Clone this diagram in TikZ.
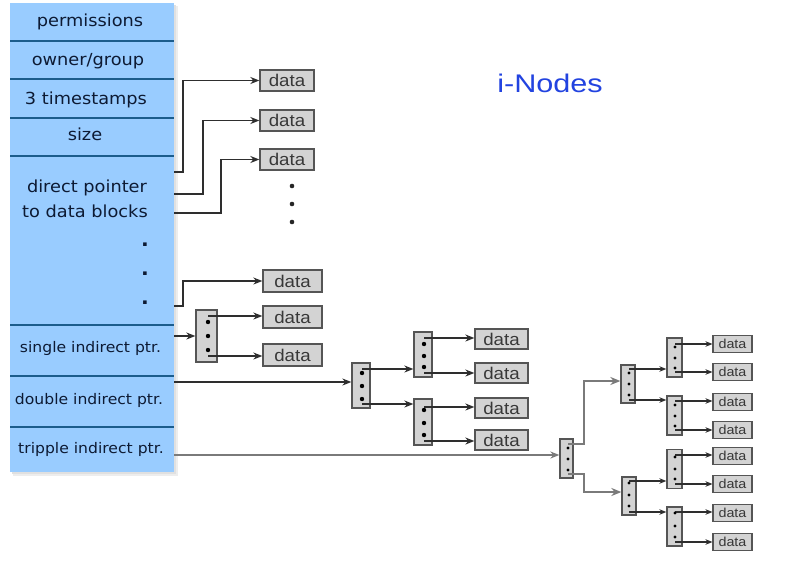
\documentclass[tikz,border=0pt]{standalone}
\usepackage{fontspec}
\setmainfont{DejaVu Sans}[FakeStretch=1.07]
\newfontfamily\arialf{Liberation Sans}[FakeStretch=1.1]
\newfontfamily\titlef{Liberation Sans}[FakeStretch=1.2]
\usetikzlibrary{arrows.meta,calc}
\definecolor{tblblue}{HTML}{99CCFF}
\definecolor{tblline}{HTML}{1B5C8C}
\definecolor{tbltext}{HTML}{0D1A33}
\definecolor{boxgray}{HTML}{D3D3D3}
\definecolor{boxedge}{HTML}{555555}
\definecolor{arrdark}{HTML}{2E2E2E}
\definecolor{arrgray}{HTML}{7A7A7A}
\definecolor{titleblue}{HTML}{2243E0}
\tikzset{
  tbl/.style={draw=none, fill=tblblue, minimum width=164pt, minimum height=469pt, inner sep=0pt},
  rowline/.style={draw=tblline, line width=2.4pt},
  bigrow/.style={text=tbltext, inner sep=0pt, anchor=base, font=\fontsize{16.6}{19}\selectfont},
  smallrow/.style={text=tbltext, inner sep=0pt, anchor=base, font=\fontsize{14.6}{17}\selectfont},
  dotrow/.style={text=tbltext, inner sep=0pt, anchor=base, font=\bfseries\fontsize{19}{20}\selectfont},
  datab/.style={draw=boxedge, fill=boxgray, line width=1.3pt, text=black!78, inner sep=0pt,
    font=\arialf\fontsize{17}{18}\selectfont, minimum width=54pt, minimum height=21pt},
  smalldata/.style={datab, line width=1.1pt, minimum width=39pt, minimum height=17pt, font=\arialf\fontsize{13}{14}\selectfont},
  idx/.style={draw=boxedge, fill=boxgray, line width=1.3pt, inner sep=0pt},
  arr/.style={draw=arrdark, line width=1.7pt, -{Stealth[length=9pt,width=7pt]}},
  sarr/.style={draw=arrdark, line width=1.4pt, -{Stealth[length=7pt,width=5.5pt]}},
  garr/.style={draw=arrgray, line width=2.4pt, -{Stealth[length=10pt,width=8pt]}},
  glink/.style={draw=arrgray, line width=2pt, -{Stealth[length=9pt,width=7pt]}},
}
\begin{document}
\begin{tikzpicture}[x=1pt,y=-1pt]
\useasboundingbox (0,0) rectangle (786,565);
\fill[white] (0,0) rectangle (786,565);
% shadow and table
\fill[black!7] (13,6) rectangle (178,476);
\fill[black!12] (12,5) rectangle (176,474);
\node[tbl] (tbl) at (92,237.5) {};
\foreach \yy in {41,79,118,156,325,376,427}
  \draw[rowline] (10,\yy) -- (174,\yy);
\node[bigrow] (r1) at (90,26) {permissions};
\node[bigrow] (r2) at (88,65) {owner/group};
\node[bigrow] (r3) at (86,104) {3 timestamps};
\node[bigrow] (r4) at (85,140.5) {size};
\node[bigrow] (r5) at (87,192) {direct pointer};
\node[bigrow] (r6) at (85,217) {to data blocks};
\node[dotrow] (q1) at (145,246) {.};
\node[dotrow] (q2) at (145,275.5) {.};
\node[dotrow] (q3) at (145,304.5) {.};
\node[smallrow] (r7) at (90.5,352.5) {single indirect ptr.};
\node[smallrow] (r8) at (89,404) {double indirect ptr.};
\node[smallrow] (r9) at (91,453) {tripple indirect ptr.};
% title
\node[text=titleblue, inner sep=0pt, anchor=base, font=\titlef\fontsize{25.5}{28}\selectfont] (title) at (550,92.7) {i-Nodes};
% direct data blocks
\node[datab] (d1) at (287,80.5) {data};
\node[datab] (d2) at (287,120.5) {data};
\node[datab] (d3) at (287,159.5) {data};
\foreach \yy in {186,204,222} \fill[black!85] (292,\yy) circle (2.3pt);
\coordinate (p1) at (174,172);
\coordinate (p2) at (174,194);
\coordinate (p3) at (174,213);
\draw[arr] (p1) -- ++(9,0) |- (d1.west);
\draw[arr] (p2) -- ++(29,0) |- (d2.west);
\draw[arr] (p3) -- ++(47,0) |- (d3.west);
% last direct + single indirect
\node[datab, minimum width=59pt, minimum height=22pt] (d4) at (292.5,281) {data};
\node[datab, minimum width=59pt, minimum height=22pt] (d5) at (292.5,317) {data};
\node[datab, minimum width=59pt, minimum height=22pt] (d6) at (292.5,355) {data};
\node[idx, minimum width=21pt, minimum height=52pt] (S) at (206.5,336) {};
\coordinate (p4) at (174,306);
\coordinate (p5) at (174,336);
\draw[arr] (p4) -- ++(9,0) |- (d4.west);
\draw[arr] (p5) -- (S.west);
\coordinate (s1) at (208,316);
\coordinate (s2) at (208,356);
\draw[arr] (s1) -- (s1 -| d5.west);
\draw[arr] (s2) -- (s2 -| d6.west);
% double indirect
\node[idx, minimum width=18pt, minimum height=45pt] (A) at (361,385.5) {};
\node[idx, minimum width=18pt, minimum height=45pt] (B) at (423,354.5) {};
\node[idx, minimum width=18pt, minimum height=46pt] (C) at (423,422) {};
\node[datab, minimum width=53pt, minimum height=20pt] (e1) at (501.5,339) {data};
\node[datab, minimum width=53pt, minimum height=20pt] (e2) at (501.5,373) {data};
\node[datab, minimum width=53pt, minimum height=20pt] (e3) at (501.5,408) {data};
\node[datab, minimum width=53pt, minimum height=20pt] (e4) at (501.5,440) {data};
\coordinate (p6) at (174,382);
\draw[arr, line width=1.4pt] (p6) -- (p6 -| A.west);
\coordinate (a1) at (362,369);
\coordinate (a2) at (362,404);
\draw[arr] (a1) -- (a1 -| B.west);
\draw[arr] (a2) -- (a2 -| C.west);
\coordinate (b1) at (424,338);
\coordinate (b2) at (424,373);
\coordinate (c1) at (424,407);
\coordinate (c2) at (424,441);
\draw[arr] (b1) -- (b1 -| e1.west);
\draw[arr] (b2) -- (b2 -| e2.west);
\draw[arr] (c1) -- (c1 -| e3.west);
\draw[arr] (c2) -- (c2 -| e4.west);
% triple indirect
\node[idx, minimum width=13pt, minimum height=39pt] (D) at (566.5,458.5) {};
\node[idx, minimum width=14pt, minimum height=38pt] (E) at (628,384) {};
\node[idx, minimum width=14pt, minimum height=38pt] (F) at (629,496) {};
\node[idx, minimum width=15pt, minimum height=39pt] (G) at (674.5,357.5) {};
\node[idx, minimum width=15pt, minimum height=39pt] (H) at (674.5,415.5) {};
\node[idx, minimum width=15pt, minimum height=39pt] (I) at (674.5,469) {};
\node[idx, minimum width=15pt, minimum height=39pt] (J) at (674.5,526.5) {};
\node[smalldata] (f1) at (732.5,344) {data};
\node[smalldata] (f2) at (732.5,372) {data};
\node[smalldata] (f3) at (732.5,402) {data};
\node[smalldata] (f4) at (732.5,430) {data};
\node[smalldata] (f5) at (732.5,456) {data};
\node[smalldata] (f6) at (732.5,484) {data};
\node[smalldata] (f7) at (732.5,513) {data};
\node[smalldata] (f8) at (732.5,542) {data};
\coordinate (p7) at (174,455);
\draw[glink] (p7) -- (p7 -| D.west);
\coordinate (dd1) at (568,444);
\coordinate (dd2) at (568,474);
\draw[garr] (dd1) -- ++(16,0) |- ([yshift=3pt]E.west);
\draw[garr] (dd2) -- ++(16,0) |- ([yshift=4pt]F.west);
\coordinate (g1) at (629,369);
\coordinate (g2) at (629,400);
\coordinate (g3) at (629,481);
\coordinate (g4) at (629,512);
\draw[sarr] (g1) -- (g1 -| G.west);
\draw[sarr] (g2) -- (g2 -| H.west);
\draw[sarr] (g3) -- (g3 -| I.west);
\draw[sarr] (g4) -- (g4 -| J.west);
\coordinate (h1) at (675,344);
\coordinate (h2) at (675,372);
\coordinate (h3) at (675,401);
\coordinate (h4) at (675,430);
\coordinate (h5) at (675,455);
\coordinate (h6) at (675,484);
\coordinate (h7) at (675,512);
\coordinate (h8) at (675,542);
\draw[sarr] (h1) -- (h1 -| f1.west);
\draw[sarr] (h2) -- (h2 -| f2.west);
\draw[sarr] (h3) -- (h3 -| f3.west);
\draw[sarr] (h4) -- (h4 -| f4.west);
\draw[sarr] (h5) -- (h5 -| f5.west);
\draw[sarr] (h6) -- (h6 -| f6.west);
\draw[sarr] (h7) -- (h7 -| f7.west);
\draw[sarr] (h8) -- (h8 -| f8.west);
% dots in index blocks
\foreach \xx/\yy in {208/322,208/336,208/350,362/373,362/386,362/399,424/344,424/356,424/367,424/410,424/423,424/435}
  \fill[black] (\xx,\yy) circle (2.2pt);
\foreach \xx/\yy in {568/448,568/459,568/470,629/373,629/384,629/395,629/483,629/495,629/506,675/347,675/358,675/368,675/405,675/416,675/426,675/457,675/469,675/479,675/513,675/526,675/537}
  \fill[black] (\xx,\yy) circle (1.7pt);
\end{tikzpicture}
\end{document}
